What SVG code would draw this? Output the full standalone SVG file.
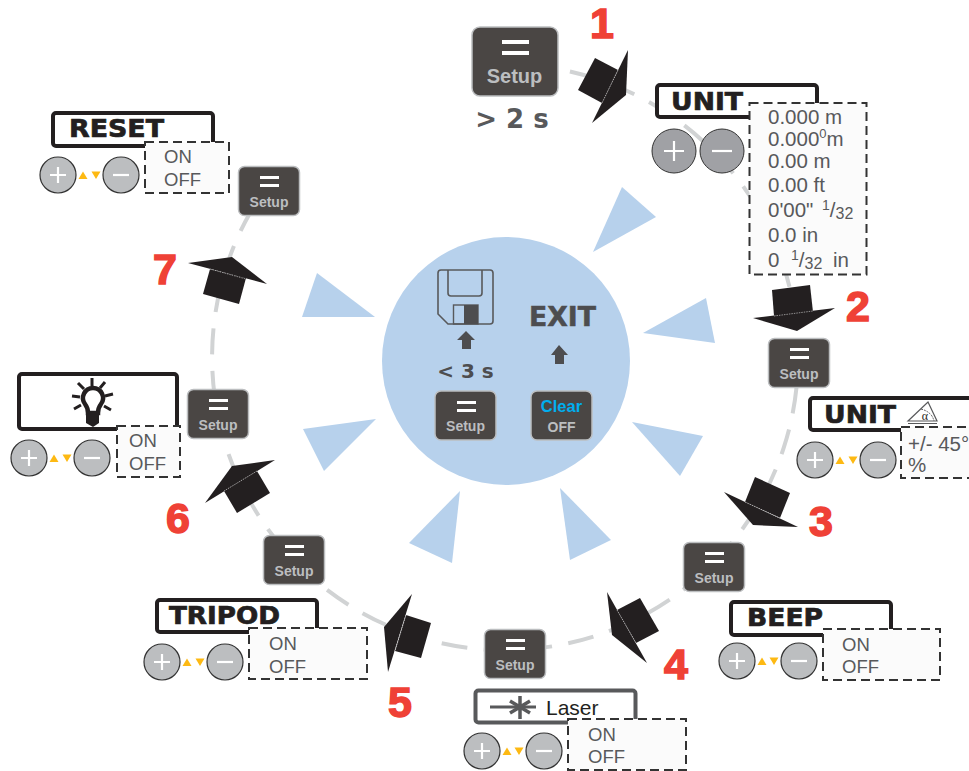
<svg xmlns="http://www.w3.org/2000/svg" width="969" height="771" viewBox="0 0 969 771">
<style>
text{font-family:"Liberation Sans",Arial,sans-serif}
.tri{fill:#b7d1ec}
.ring{fill:none;stroke:#d1d3d4;stroke-width:4;stroke-dasharray:26 16.500;stroke-dashoffset:-2}
.body{fill:#231f20}
.seam{stroke:#fff;stroke-width:.5;stroke-dasharray:1.5 1;fill:none}
.num{font-weight:700;font-size:43px;fill:#ef4136;stroke:#ef4136;stroke-width:1.500;text-anchor:middle}
.btn{fill:#4a4644;stroke:#bcbec0;stroke-width:1.500}
.bar{fill:#fff}
.st{font-weight:700;font-size:14px;fill:#bcbec0;text-anchor:middle}
.lab{fill:#fff;stroke:#231f20;stroke-width:4}
.head{font-family:"DejaVu Sans",Verdana,sans-serif;font-weight:700;font-size:25px;fill:#231f20;stroke:#231f20;stroke-width:.7}
.dash{fill:#fbfbfb;stroke:#333;stroke-width:2;stroke-dasharray:9 5}
.opt{font-size:20.500px;fill:#58595b}
.oo{font-size:18.500px;fill:#58595b}
.pm{fill:#bcbec0;stroke:#333;stroke-width:1.200}
.pmb{fill:#a0a1a5;stroke:#333;stroke-width:1}
.sign{stroke:#fff;stroke-width:2.200;fill:none}
.y{fill:#fdb913}
.gr{fill:#4d4d4f}
.tm{font-family:"DejaVu Sans",Verdana,sans-serif;font-weight:700;fill:#58595b;text-anchor:middle}
</style>
<g id="connectors">
<path class="ring" d="M568 71A293 293 0 1 1 250 213"/>
</g>
<g id="hub">
<circle cx="506" cy="361" r="124" fill="#b7d1ec"/>
<path d="M441 270H490Q493 270 493 273V321Q493 324 490 324H448L438 314V273Q438 270 441 270Z" fill="none" stroke="#58595b" stroke-width="1.600"/>
<path d="M448 270V293Q448 296 451 296H479Q482 296 482 293V270" fill="none" stroke="#58595b" stroke-width="1.600"/>
<rect x="453.500" y="305" width="24.500" height="19" fill="none" stroke="#58595b" stroke-width="1.400"/>
<rect x="464" y="305" width="14" height="19" fill="#4d4d4f"/>
<path class="gr" d="M466 331L475 340H471V349H462V340H457Z"/>
<text class="tm" x="465.500" y="378" font-size="20" style="fill:#4d4d4f">&lt; 3 s</text>
<text x="562.500" y="326" font-size="26" font-weight="700" fill="#4d4d4f" stroke="#4d4d4f" stroke-width=".5" text-anchor="middle" style="font-family:'DejaVu Sans',sans-serif" textLength="67" lengthAdjust="spacingAndGlyphs">EXIT</text>
<path class="gr" d="M559 345L568 355H564V364H555V355H551Z"/>
</g>
<g id="petals">
<polygon class="tri" points="622,187 656,217 593,252"/>
<polygon class="tri" points="706,298 715,343 643,333"/>
<polygon class="tri" points="632,422 703,436 680,476"/>
<polygon class="tri" points="560,488 611,540 570,560"/>
<polygon class="tri" points="460,491 409,543 452,563"/>
<polygon class="tri" points="376,419 303,429 324,471"/>
<polygon class="tri" points="317,273 375,317 302,317"/>
</g>
<g id="step1">
<polygon class="body" points="595,58 618,70 602,103 578,90"/>
<polygon class="body" points="628,50 626,95 592,123"/>
<line class="seam" x1="618" y1="70" x2="602" y2="103"/>
<text class="num" x="602" y="38">1</text>
</g>
<g id="step2">
<polygon class="body" points="772,290 810,285 813,312 774,316"/>
<polygon class="body" points="753,318 835,308 797,331"/>
<line class="seam" x1="774" y1="316" x2="813" y2="311"/>
<text class="num" x="858" y="321">2</text>
</g>
<g id="step3">
<polygon class="body" points="755,477 790,493 780,518 745,502"/>
<polygon class="body" points="724,492 798,527 753,525"/>
<line class="seam" x1="745" y1="502" x2="780" y2="518"/>
<text class="num" x="821" y="536">3</text>
</g>
<g id="step4">
<polygon class="body" points="640,598 659,631 636,643 617,610"/>
<polygon class="body" points="607,592 647,663 612,635"/>
<line class="seam" x1="617" y1="610" x2="636" y2="643"/>
<text class="num" x="676" y="679">4</text>
</g>
<g id="step5">
<polygon class="body" points="406,615 431,623 421,658 395,651"/>
<polygon class="body" points="412,594 388,672 384,627"/>
<line class="seam" x1="406" y1="615" x2="395" y2="651"/>
<text class="num" x="400" y="717">5</text>
</g>
<g id="step6">
<polygon class="body" points="257,471 270,493 237,513 224,491"/>
<polygon class="body" points="275,460 205,503 232,466"/>
<line class="seam" x1="257" y1="471" x2="224" y2="491"/>
<text class="num" x="178" y="533">6</text>
</g>
<g id="step7">
<polygon class="body" points="210,269 246,278 239,304 203,294"/>
<polygon class="body" points="188,263 267,284 232,257"/>
<line class="seam" x1="210" y1="269" x2="246" y2="279"/>
<text class="num" x="165" y="284">7</text>
</g>
<g id="setup-main">
<rect class="btn" x="472" y="27" width="86" height="69" rx="8" stroke-width="2"/>
<rect class="bar" x="502" y="40" width="27" height="4"/>
<rect class="bar" x="502" y="51" width="27" height="4"/>
<text class="st" x="514.500" y="83" style="font-size:20px">Setup</text>
<text class="tm" x="512" y="128" font-size="26">&gt; 2 s</text>
</g>
<g id="setup-2">
<rect class="btn" x="768.500" y="338.500" width="61" height="49" rx="6"/><rect class="bar" x="790" y="348" width="19" height="3"/><rect class="bar" x="790" y="356" width="19" height="3"/><text class="st" x="799" y="379">Setup</text>
</g>
<g id="setup-3">
<rect class="btn" x="683.500" y="542.500" width="61" height="49" rx="6"/><rect class="bar" x="705" y="552" width="19" height="3"/><rect class="bar" x="705" y="560" width="19" height="3"/><text class="st" x="714" y="583">Setup</text>
</g>
<g id="setup-4">
<rect class="btn" x="484.500" y="629.500" width="61" height="49" rx="6"/><rect class="bar" x="506" y="639" width="19" height="3"/><rect class="bar" x="506" y="647" width="19" height="3"/><text class="st" x="515" y="670">Setup</text>
</g>
<g id="setup-5">
<rect class="btn" x="263.500" y="535.500" width="61" height="49" rx="6"/><rect class="bar" x="285" y="545" width="19" height="3"/><rect class="bar" x="285" y="553" width="19" height="3"/><text class="st" x="294" y="576">Setup</text>
</g>
<g id="setup-6">
<rect class="btn" x="187.500" y="389.500" width="61" height="49" rx="6"/><rect class="bar" x="209" y="399" width="19" height="3"/><rect class="bar" x="209" y="407" width="19" height="3"/><text class="st" x="218" y="430">Setup</text>
</g>
<g id="setup-7">
<rect class="btn" x="238.500" y="166.500" width="61" height="49" rx="6"/><rect class="bar" x="260" y="176" width="19" height="3"/><rect class="bar" x="260" y="184" width="19" height="3"/><text class="st" x="269" y="207">Setup</text>
</g>
<g id="setup-save">
<rect class="btn" x="435" y="391" width="61" height="49" rx="6"/><rect class="bar" x="457" y="401" width="19" height="3"/><rect class="bar" x="457" y="409" width="19" height="3"/><text class="st" x="465.500" y="431">Setup</text>
</g>
<g id="clear-off">
<rect class="btn" x="531" y="391" width="61" height="49" rx="6"/>
<text x="561.500" y="412" font-size="16.500" font-weight="700" fill="#00aeef" text-anchor="middle">Clear</text>
<text x="561.500" y="432" font-size="14" font-weight="700" fill="#bcbec0" text-anchor="middle">OFF</text>
</g>
<g id="unit">
<rect class="lab" x="657" y="85" width="160" height="32" rx="3"/>
<text class="head" x="671" y="110" textLength="72" lengthAdjust="spacingAndGlyphs">UNIT</text>
<circle class="pmb" cx="674" cy="151" r="22"/><path class="sign" d="M664 151H684M674 141V161"/>
<circle class="pmb" cx="722" cy="151" r="22"/><path class="sign" d="M712 151H732" stroke-width="2.500"/>
<rect class="dash" x="749.500" y="103" width="117" height="171.500"/>
<text class="opt" x="768" y="124">0.000 m</text>
<text class="opt" x="768" y="146">0.000<tspan font-size="13" dy="-8">0</tspan><tspan dy="8">m</tspan></text>
<text class="opt" x="768" y="168">0.00 m</text>
<text class="opt" x="768" y="192">0.00 ft</text>
<text class="opt" x="768" y="217">0'00" <tspan x="822" font-size="14" dy="-7">1</tspan><tspan dy="7">/</tspan><tspan font-size="16" dy="2">32</tspan></text>
<text class="opt" x="768" y="242">0.0 in</text>
<text class="opt" x="768" y="267">0<tspan x="791" font-size="14" dy="-7">1</tspan><tspan dy="7">/</tspan><tspan font-size="16" dy="2">32</tspan><tspan x="833" dy="-2">in</tspan></text>
</g>
<g id="unit-angle">
<rect class="lab" x="810" y="398" width="162" height="32" rx="3"/>
<text class="head" x="824" y="423" textLength="72" lengthAdjust="spacingAndGlyphs">UNIT</text>
<path d="M908 421L928 402L937 421ZM908 423.500H937" fill="none" stroke="#58595b" stroke-width="1.200"/>
<path d="M921 409Q932 412 934 421" fill="none" stroke="#58595b" stroke-width="1" stroke-dasharray="2 1"/>
<text x="925" y="420" font-size="12" fill="#231f20" text-anchor="middle" style="font-family:'Liberation Serif',serif">α</text>
<rect class="dash" x="901" y="427" width="75" height="51"/>
<text class="opt" x="908" y="451">+/- 45°</text>
<text class="opt" x="908" y="472">%</text>
<circle class="pm" cx="815" cy="460" r="18"/><path class="sign" d="M807 460H823M815 452V468"/>
<circle class="pm" cx="878" cy="460" r="18"/><path class="sign" d="M870 460H886"/>
<polygon class="y" points="835.500,464 844.500,464 840,456.500"/><polygon class="y" points="848.500,456.500 857.500,456.500 853,464"/>
</g>
<g id="beep">
<rect class="lab" x="731" y="602" width="160" height="33" rx="3"/>
<text class="head" x="747" y="626" textLength="76" lengthAdjust="spacingAndGlyphs">BEEP</text>
<rect class="dash" x="823" y="629" width="117" height="51"/>
<text class="oo" x="842" y="651">ON</text><text class="oo" x="842" y="673">OFF</text>
<circle class="pm" cx="737" cy="661" r="18"/><path class="sign" d="M729 661H745M737 653V669"/>
<circle class="pm" cx="799" cy="661" r="18"/><path class="sign" d="M791 661H807"/>
<polygon class="y" points="757.500,665 766.500,665 762,657.500"/><polygon class="y" points="769.500,657.500 778.500,657.500 774,665"/>
</g>
<g id="laser">
<rect class="lab" x="475.500" y="690.500" width="160" height="32" rx="3" style="stroke:#58595b"/>
<path d="M490 707H536" stroke="#58595b" stroke-width="3" fill="none"/>
<path d="M520 696V719M510 701L530 713M510 713L530 701" stroke="#58595b" stroke-width="3.500" fill="none"/>
<text x="546" y="715" font-size="21" fill="#231f20">Laser</text>
<rect class="dash" x="568" y="719" width="118" height="51"/>
<text class="oo" x="588" y="741">ON</text><text class="oo" x="588" y="763">OFF</text>
<circle class="pm" cx="482" cy="751" r="18"/><path class="sign" d="M474 751H490M482 743V759"/>
<circle class="pm" cx="544" cy="751" r="18"/><path class="sign" d="M536 751H552"/>
<polygon class="y" points="502.500,755 511.500,755 507,747.500"/><polygon class="y" points="514.500,747.500 523.500,747.500 519,755"/>
</g>
<g id="tripod">
<rect class="lab" x="157" y="600" width="160" height="32" rx="3"/>
<text class="head" x="169" y="624" textLength="111" lengthAdjust="spacingAndGlyphs">TRIPOD</text>
<rect class="dash" x="249" y="628" width="118" height="51"/>
<text class="oo" x="269" y="650">ON</text><text class="oo" x="269" y="673">OFF</text>
<circle class="pm" cx="162" cy="662" r="18"/><path class="sign" d="M154 662H170M162 654V670"/>
<circle class="pm" cx="225" cy="662" r="18"/><path class="sign" d="M217 662H233"/>
<polygon class="y" points="182.500,666 191.500,666 187,658.500"/><polygon class="y" points="195.500,658.500 204.500,658.500 200,666"/>
</g>
<g id="light">
<rect class="lab" x="19" y="374" width="158" height="55" rx="3"/>
<path d="M92 378V386M78 383L84 389M105 382L100 388M72 396L80 397M113 394L105 396M74 409L81 405M111 410L104 406" stroke="#231f20" stroke-width="3" fill="none"/>
<path d="M93 388a10 10 0 0 1 8 16q-3 4-3 9h-10q0-5-3-9a10 10 0 0 1 8-16Z" fill="none" stroke="#231f20" stroke-width="4.500"/>
<path d="M86 412H99V423L93 427L86 423Z" fill="#231f20"/>
<rect class="dash" x="117" y="426" width="63" height="51"/>
<text class="oo" x="129" y="447">ON</text><text class="oo" x="129" y="470">OFF</text>
<circle class="pm" cx="29" cy="458" r="18"/><path class="sign" d="M21 458H37M29 450V466"/>
<circle class="pm" cx="92" cy="458" r="18"/><path class="sign" d="M84 458H100"/>
<polygon class="y" points="49.500,462 58.500,462 54,454.500"/><polygon class="y" points="62.500,454.500 71.500,454.500 67,462"/>
</g>
<g id="reset">
<rect class="lab" x="53" y="113" width="160" height="33" rx="3"/>
<text class="head" x="69" y="137" textLength="95" lengthAdjust="spacingAndGlyphs">RESET</text>
<rect class="dash" x="145" y="142" width="84" height="51"/>
<text class="oo" x="164" y="163">ON</text><text class="oo" x="164" y="186">OFF</text>
<circle class="pm" cx="58" cy="175" r="18"/><path class="sign" d="M50 175H66M58 167V183"/>
<circle class="pm" cx="121" cy="175" r="18"/><path class="sign" d="M113 175H129"/>
<polygon class="y" points="78.500,179 87.500,179 83,171.500"/><polygon class="y" points="91.500,171.500 100.500,171.500 96,179"/>
</g>
</svg>
